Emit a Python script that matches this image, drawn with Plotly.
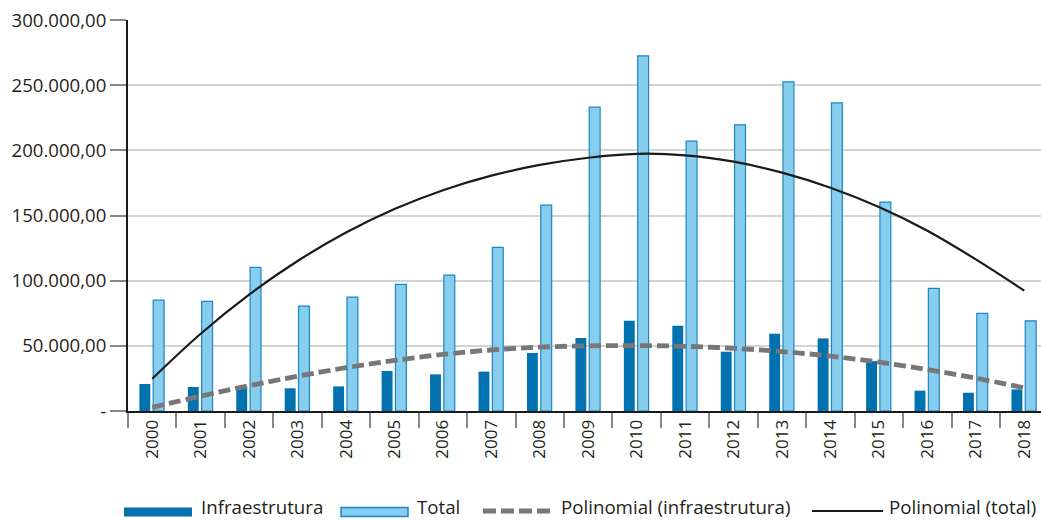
import plotly.graph_objects as go

anos = ["2000", "2001", "2002", "2003", "2004", "2005", "2006", "2007", "2008", "2009",
        "2010", "2011", "2012", "2013", "2014", "2015", "2016", "2017", "2018"]

infraestrutura = [20700, 18400, 19000, 17400, 18900, 30700, 28100, 30200, 44500, 56000,
                  69200, 65400, 45500, 59300, 55700, 38300, 15600, 14000, 16600]

total = [85000, 84100, 110200, 80500, 87400, 97200, 104300, 125500, 158000, 233100,
         272500, 207000, 219600, 252500, 236400, 160300, 94100, 74900, 69200]

poli_infra = [2800, 11400, 19400, 26700, 33200, 38800, 43400, 46800, 49000, 50000,
              50200, 49600, 48100, 45600, 42100, 37500, 31800, 25200, 17800]

poli_total = [24800, 59300, 89300, 115100, 136900, 154900, 169400, 180600, 188800, 194300,
              197300, 196200, 191300, 182900, 171300, 156500, 138300, 116300, 92300]

y_ticks = [0, 50000, 100000, 150000, 200000, 250000, 300000]
y_labels = ["-", "50.000,00", "100.000,00", "150.000,00", "200.000,00", "250.000,00", "300.000,00"]

nomes = ["Infraestrutura", "Total", "Polinomial (infraestrutura)", "Polinomial (total)"]

FONT = "Open Sans"
TXT = "#231f20"
C_INFRA = "#0072b0"
C_TOTAL = "#87ceee"
C_TOTAL_LINE = "#1b86c6"
C_PINFRA = "#77777a"
C_PTOTAL = "#1a1a1a"

fig = go.Figure()
fig.add_trace(go.Bar(
    x=anos, y=infraestrutura, name=nomes[0],
    marker=dict(color=C_INFRA, line=dict(color=C_INFRA, width=0)),
    width=0.225, offset=-0.265,
))
fig.add_trace(go.Bar(
    x=anos, y=total, name=nomes[1],
    marker=dict(color=C_TOTAL, line=dict(color=C_TOTAL_LINE, width=1.2)),
    width=0.225, offset=0.02,
))
fig.add_trace(go.Scatter(
    x=anos, y=poli_infra, name=nomes[2], mode="lines",
    line=dict(color=C_PINFRA, width=4.8, dash="12px,5px", shape="spline", smoothing=1.0),
))
fig.add_trace(go.Scatter(
    x=anos, y=poli_total, name=nomes[3], mode="lines",
    line=dict(color=C_PTOTAL, width=2.2, shape="spline", smoothing=1.0),
))

# custom legend (wide symbols as in the original), placed in paper coordinates
LY0, LY1, LYC = -0.2468, -0.2698, -0.2558
LY_TXT = -0.2775
shapes = [
    dict(type="rect", xref="paper", yref="paper", x0=-0.0044, x1=0.0701, y0=LY0, y1=LY1,
         fillcolor=C_INFRA, line=dict(width=0)),
    dict(type="rect", xref="paper", yref="paper", x0=0.2333, x1=0.3067, y0=LY0, y1=LY1,
         fillcolor=C_TOTAL, line=dict(color=C_TOTAL_LINE, width=1.5)),
    dict(type="line", xref="paper", yref="paper", x0=0.3888, x1=0.4655, y0=LYC, y1=LYC,
         line=dict(color=C_PINFRA, width=5, dash="13px,5px")),
    dict(type="line", xref="paper", yref="paper", x0=0.7492, x1=0.8269, y0=LYC, y1=LYC,
         line=dict(color=C_PTOTAL, width=2.2)),
]
text_x = [0.0788, 0.3154, 0.4732, 0.8324]
annotations = [
    dict(text=n, xref="paper", yref="paper", x=tx, y=LY_TXT, xanchor="left", yanchor="bottom",
         showarrow=False, borderpad=0, font=dict(family=FONT, size=18.7, color=TXT))
    for n, tx in zip(nomes, text_x)
]

fig.update_layout(
    width=1041, height=520,
    margin=dict(l=128, r=0, t=20, b=109, autoexpand=False),
    paper_bgcolor="white", plot_bgcolor="white",
    barmode="group",
    font=dict(family=FONT, size=18, color=TXT),
    showlegend=False,
    shapes=shapes,
    annotations=annotations,
)
fig.update_xaxes(
    type="category", range=[-0.5, 18.345], automargin=False,
    showline=True, linecolor="#1a1a1a", linewidth=2,
    ticks="outside", tickson="boundaries", ticklen=15, tickwidth=1.5, tickcolor="#888888",
    tickangle=-90, tickfont=dict(family=FONT, size=17, color=TXT),
    showgrid=False, zeroline=False, fixedrange=True,
)
fig.update_yaxes(
    range=[0, 300000], tickmode="array", tickvals=y_ticks, ticktext=y_labels,
    automargin=False,
    showline=True, linecolor="#1a1a1a", linewidth=2,
    ticks="outside", ticklen=16, tickwidth=1.5, tickcolor="#888888",
    tickfont=dict(family=FONT, size=18.6, color=TXT),
    showgrid=True, gridcolor="#d3d3d3", gridwidth=1.8,
    zeroline=False, fixedrange=True,
)

fig.write_html(
    "out.html",
    config={"displayModeBar": False},
    post_script="document.body.style.margin='0px';document.body.style.overflow='hidden';",
)
